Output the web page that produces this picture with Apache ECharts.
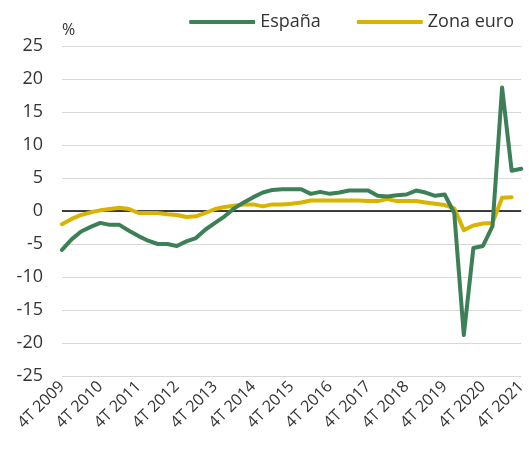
<!DOCTYPE html>
<html>
<head>
<meta charset="utf-8">
<script src="https://cdn.jsdelivr.net/npm/echarts@6/dist/echarts.min.js"></script>
<style>
  html, body { margin: 0; padding: 0; background: #fff; }
  #chart { width: 529px; height: 454px; }
</style>
</head>
<body>
<div id="chart"></div>
<script>
// trimestres, 4T 2009 .. 4T 2021
const quarters = [
  '4T 2009',
  '1T 2010', '2T 2010', '3T 2010', '4T 2010',
  '1T 2011', '2T 2011', '3T 2011', '4T 2011',
  '1T 2012', '2T 2012', '3T 2012', '4T 2012',
  '1T 2013', '2T 2013', '3T 2013', '4T 2013',
  '1T 2014', '2T 2014', '3T 2014', '4T 2014',
  '1T 2015', '2T 2015', '3T 2015', '4T 2015',
  '1T 2016', '2T 2016', '3T 2016', '4T 2016',
  '1T 2017', '2T 2017', '3T 2017', '4T 2017',
  '1T 2018', '2T 2018', '3T 2018', '4T 2018',
  '1T 2019', '2T 2019', '3T 2019', '4T 2019',
  '1T 2020', '2T 2020', '3T 2020', '4T 2020',
  '1T 2021', '2T 2021', '3T 2021', '4T 2021'
]

const espana = [
  -5.9,
  -4.3, -3.1, -2.4, -1.8,
  -2.1, -2.1, -3.0, -3.8,
  -4.5, -5.0, -5.0, -5.3,
  -4.6, -4.1, -2.8, -1.8,
  -0.8, 0.4, 1.3, 2.1,
  2.8, 3.2, 3.3, 3.3,
  3.3, 2.6, 2.9, 2.6,
  2.8, 3.1, 3.1, 3.1,
  2.3, 2.2, 2.4, 2.5,
  3.1, 2.8, 2.3, 2.5,
  -0.3, -18.8, -5.6, -5.3,
  -2.3, 18.7, 6.1, 6.4
]

const zonaEuro = [
  -2.0,
  -1.2, -0.6, -0.2, 0.1,
  0.3, 0.5, 0.3, -0.3,
  -0.3, -0.3, -0.5, -0.6,
  -0.9, -0.8, -0.3, 0.3,
  0.6, 0.8, 1.0, 1.0,
  0.7, 1.0, 1.0, 1.1,
  1.3, 1.6, 1.6, 1.6,
  1.6, 1.6, 1.6, 1.5,
  1.5, 1.8, 1.5, 1.5,
  1.5, 1.3, 1.1, 0.9,
  0.4, -2.9, -2.2, -1.9,
  -1.8, 2.0, 2.1, null
]

const yTicks = { min: -25, max: 25, step: 5 }

const font = '"Open Sans", "Noto Sans", sans-serif'
const chart = echarts.init(document.getElementById('chart'))

const option = {
  animation: false,
  textStyle: { fontFamily: font },
  legend: {
    top: 8,
    right: 10,
    icon: 'roundRect',
    itemWidth: 66,
    itemHeight: 4,
    itemGap: 36,
    textStyle: { fontSize: 18, color: '#333', fontFamily: font },
    data: ['España', 'Zona euro']
  },
  grid: { left: 62, right: 7, top: 46, bottom: 78 },
  xAxis: {
    type: 'category',
    data: quarters,
    boundaryGap: false,
    axisLine: { show: false },
    axisTick: { show: false },
    splitLine: { show: false },
    axisLabel: {
      interval: 3,
      rotate: 45,
      margin: 8,
      fontSize: 16,
      color: '#333',
      fontFamily: font
    }
  },
  yAxis: {
    type: 'value',
    min: yTicks.min,
    max: yTicks.max,
    interval: yTicks.step,
    name: '%',
    nameGap: 8,
    nameTextStyle: { fontSize: 16, color: '#333', align: 'left', fontFamily: font },
    axisLine: { show: false },
    axisTick: { show: false },
    axisLabel: { fontSize: 18, color: '#333', margin: 19, fontFamily: font },
    splitLine: { lineStyle: { color: '#d9d9d9', width: 1 } }
  },
  series: [
    {
      name: 'España',
      type: 'line',
      data: espana,
      symbol: 'none',
      lineStyle: { color: '#3d7f57', width: 4, cap: 'round', join: 'round' },
      itemStyle: { color: '#3d7f57' },
      z: 3,
      markLine: {
        silent: true,
        symbol: 'none',
        label: { show: false },
        lineStyle: { color: '#000', width: 1.5, type: 'solid' },
        data: [{ yAxis: 0 }],
        z: 1
      }
    },
    {
      name: 'Zona euro',
      type: 'line',
      data: zonaEuro,
      symbol: 'none',
      lineStyle: { color: '#d8b300', width: 4, cap: 'round', join: 'round' },
      itemStyle: { color: '#d8b300' },
      z: 2
    }
  ]
}

chart.setOption(option)
</script>
</body>
</html>
